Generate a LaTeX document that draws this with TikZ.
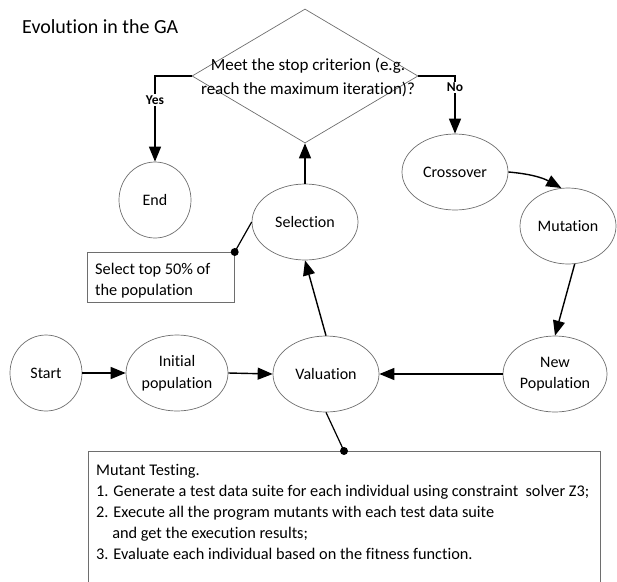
\documentclass[tikz,border=0pt]{standalone}
\usepackage{fontspec}
\setmainfont{Carlito}[Ligatures={NoCommon,NoContextual}]
\usetikzlibrary{arrows.meta,shapes.geometric}

\begin{document}
\begin{tikzpicture}[x=1pt,y=-1pt,
  shapeline/.style={draw={rgb,255:red,110;green,110;blue,110}, line width=0.7pt},
  stage/.style={shapeline, ellipse, minimum width=#1, minimum height=76pt, inner sep=0pt,
    align=center, font=\fontsize{16}{21.5}\selectfont},
  stage/.default=104pt,
  flow/.style={line width=1.4pt, -{Triangle[length=15pt,width=12pt]}},
  link/.style={line width=1.2pt},
  notebox/.style={shapeline, rectangle, inner sep=0pt},
  notetext/.style={inner sep=0pt, align=left, anchor=north west, font=\fontsize{16.3}{21}\selectfont},
  answer/.style={fill=white, inner sep=1.5pt, font=\fontsize{13.5}{16}\selectfont\bfseries},
  dot/.style={circle, fill=black, inner sep=0pt, minimum size=8pt}
]
\useasboundingbox (0,0) rectangle (617,581);
\clip (0,0) rectangle (617,581);

% heading
\node[anchor=base west, inner sep=0pt, font=\fontsize{20}{24}\selectfont] (title) at (22,33) {Evolution in the GA};

% stop test
\node[shapeline, diamond, minimum width=226pt, minimum height=134pt, inner sep=0pt] (stop) at (305,76) {};
\node[font=\fontsize{17}{24}\selectfont, align=center, inner sep=0pt] (stoptext) at (308,77)
  {Meet the stop criterion (e.g.\\reach the maximum iteration)?};

% stages of the loop
\node[stage=72pt]  (start)  at (46,373)  {Start};
\node[stage=102pt] (init)   at (177,373) {Initial\\population};
\node[stage=106pt] (val)    at (326,374) {Valuation};
\node[stage=106pt] (sel)    at (305,222) {Selection};
\node[stage=72pt]  (end)    at (155,200) {End};
\node[stage=106pt] (cross)  at (455,172) {Crossover};
\node[stage=96pt]  (mut)    at (568,226) {Mutation};
\node[stage=104pt] (newpop) at (555,374) {New\\Population};

% flow
\draw[flow] (stop.west) -| node[answer, pos=0.64] (yes) {Yes} (end.north);
\draw[flow] (stop.east) -| node[answer, pos=0.6] (no) {No} (cross.north);
\draw[flow] (sel.north) -- (stop.south);
\draw[flow] (val.north) -- (sel.south);
\draw[flow] (newpop.west) -- (val.east);
\draw[flow] (start.east) -- (init.west);
\draw[flow] (init.east) -- (val.west);
\draw[flow] (mut.-80) -- (newpop.north);
\draw[flow] (cross.east) to[bend left=12] (mut.100);

% note on selection
\node[notebox, anchor=north west, minimum width=147pt, minimum height=50pt] (selnote) at (87,252) {};
\node[notetext] (seltext) at (95,263) {Select top 50\% of\\the population};
\draw[link] (selnote.north east) -- (sel.west);
\node[dot] (seldot) at (selnote.north east) {};

% note on valuation
\node[notebox, anchor=north west, minimum width=512pt, minimum height=140pt] (mutnote) at (88,451) {};
\node[notetext] (muttext) at (96,464) {Mutant Testing.\\
  1. Generate a test data suite for each individual using constraint\ \ solver Z3;\\
  2. Execute all the program mutants with each test data suite\\
  \phantom{2.\ }and get the execution results;\\
  3. Evaluate each individual based on the fitness function.};
\coordinate (mutdot) at (344,451);
\draw[link] (val.south) -- (mutdot);
\node[dot] (mutdotmark) at (mutdot) {};
\end{tikzpicture}
\end{document}
